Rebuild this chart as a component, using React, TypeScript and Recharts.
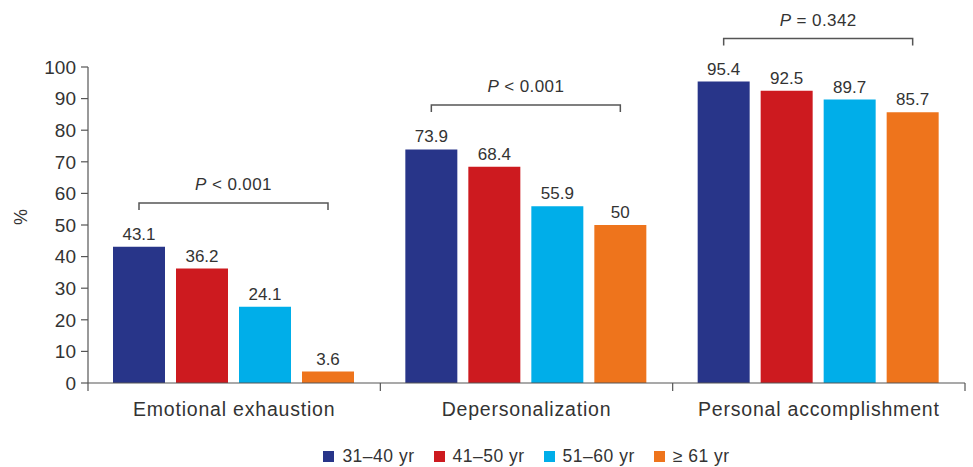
import { BarChart, Bar, XAxis, YAxis, Legend, LabelList } from "recharts";

const categories = ["Emotional exhaustion", "Depersonalization", "Personal accomplishment"];
const age31to40 = [43.1, 73.9, 95.4];
const age41to50 = [36.2, 68.4, 92.5];
const age51to60 = [24.1, 55.9, 89.7];
const age61plus = [3.6, 50, 85.7];
const pTexts = ["< 0.001", "< 0.001", "= 0.342"];
// height of each significance bracket, in % units
const bracketLevels = [57, 88, 109];
const yTicks = [0, 10, 20, 30, 40, 50, 60, 70, 80, 90, 100];

const SERIES = [
  { key: "a", name: "31–40 yr", values: age31to40, color: "#283589" },
  { key: "b", name: "41–50 yr", values: age41to50, color: "#cd1a1f" },
  { key: "c", name: "51–60 yr", values: age51to60, color: "#00aee9" },
  { key: "d", name: "≥ 61 yr", values: age61plus, color: "#ee741c" },
];

const data = categories.map((category, i) => {
  const row: Record<string, string | number> = { category };
  SERIES.forEach((s) => (row[s.key] = s.values[i]));
  return row;
});

const FONT = "'Liberation Sans', Arial, sans-serif";
const TEXT = "#333";
const AXIS = "#555";
const BAR_GAP = 11;

function CategoryTick(props: any) {
  const { x, y, payload, index, width, visibleTicksCount } = props;
  const half = width && visibleTicksCount ? width / visibleTicksCount / 2 : 146;
  const last = index === visibleTicksCount - 1;
  return (
    <g>
      <line x1={x - half} x2={x - half} y1={y} y2={y + 8} stroke={AXIS} strokeWidth={1.2} />
      {last && <line x1={x + half} x2={x + half} y1={y} y2={y + 8} stroke={AXIS} strokeWidth={1.2} />}
      <text x={x} y={y + 33} textAnchor="middle" fontSize={19.5} letterSpacing={0.8} fill={TEXT} fontFamily={FONT}>
        {payload.value}
      </text>
    </g>
  );
}

// drawn off the first bar of each group: bracket spans to the centre of the fourth bar
function Bracket(props: any) {
  const { x, y, width, height, value, index } = props;
  if (!value) return null;
  const zero = y + height;
  const pxPerUnit = height / value;
  const by = zero - bracketLevels[index] * pxPerUnit;
  const x1 = x + width / 2;
  const x2 = x + 3 * (width + BAR_GAP) + width / 2;
  return (
    <g>
      <path d={`M${x1},${by + 7} L${x1},${by} L${x2},${by} L${x2},${by + 7}`} fill="none" stroke={AXIS} strokeWidth={1.5} />
      <text x={(x1 + x2) / 2} y={by - 13} textAnchor="middle" fontSize={17} letterSpacing={0.4} fill={TEXT} fontFamily={FONT}>
        <tspan fontStyle="italic">P</tspan>
        <tspan> {pTexts[index]}</tspan>
      </text>
    </g>
  );
}

function LegendContent(props: any) {
  const items = props.payload || [];
  return (
    <div style={{ display: "flex", justifyContent: "center", fontFamily: FONT, fontSize: 17.5, letterSpacing: 0.5, lineHeight: "20px", color: TEXT }}>
      {items.map((it: any) => (
        <div key={it.value} style={{ display: "flex", alignItems: "center", margin: "0 9.5px" }}>
          <span style={{ width: 11, height: 11, background: it.color, marginRight: 8, display: "inline-block" }} />
          <span>{it.value}</span>
        </div>
      ))}
    </div>
  );
}

export default function App() {
  return (
    <div style={{ position: "absolute", left: 0, top: 0, background: "#fff" }}>
      <BarChart
        width={973}
        height={467}
        data={data}
        margin={{ top: 67, right: 8, bottom: 54, left: 0 }}
        barCategoryGap={25}
        barGap={BAR_GAP}
      >
        <XAxis
          dataKey="category"
          height={30}
          interval={0}
          tickSize={0}
          tickMargin={0}
          tickLine={false}
          axisLine={{ stroke: AXIS, strokeWidth: 1.2 }}
          tick={<CategoryTick />}
        />
        <YAxis
          width={88}
          domain={[0, 100]}
          ticks={yTicks}
          interval={0}
          tickSize={7}
          tickMargin={5}
          axisLine={{ stroke: AXIS, strokeWidth: 1.2 }}
          tickLine={{ stroke: AXIS, strokeWidth: 1.2 }}
          tick={{ fontSize: 19, fill: TEXT, fontFamily: FONT }}
          label={{ value: "%", angle: -90, position: "insideLeft", offset: 21, fontSize: 18, fill: TEXT, fontFamily: FONT }}
        />
        <Legend
          layout="horizontal"
          verticalAlign="middle"
          align="center"
          wrapperStyle={{ top: 446, left: 88, width: 877 }}
          content={<LegendContent />}
        />
        {SERIES.map((s, si) => (
          <Bar key={s.key} dataKey={s.key} name={s.name} fill={s.color} isAnimationActive={false}>
            <LabelList dataKey={s.key} position="top" offset={7} fontSize={17} fill={TEXT} fontFamily={FONT} />
            {si === 0 && <LabelList dataKey={s.key} content={<Bracket />} />}
          </Bar>
        ))}
      </BarChart>
    </div>
  );
}
